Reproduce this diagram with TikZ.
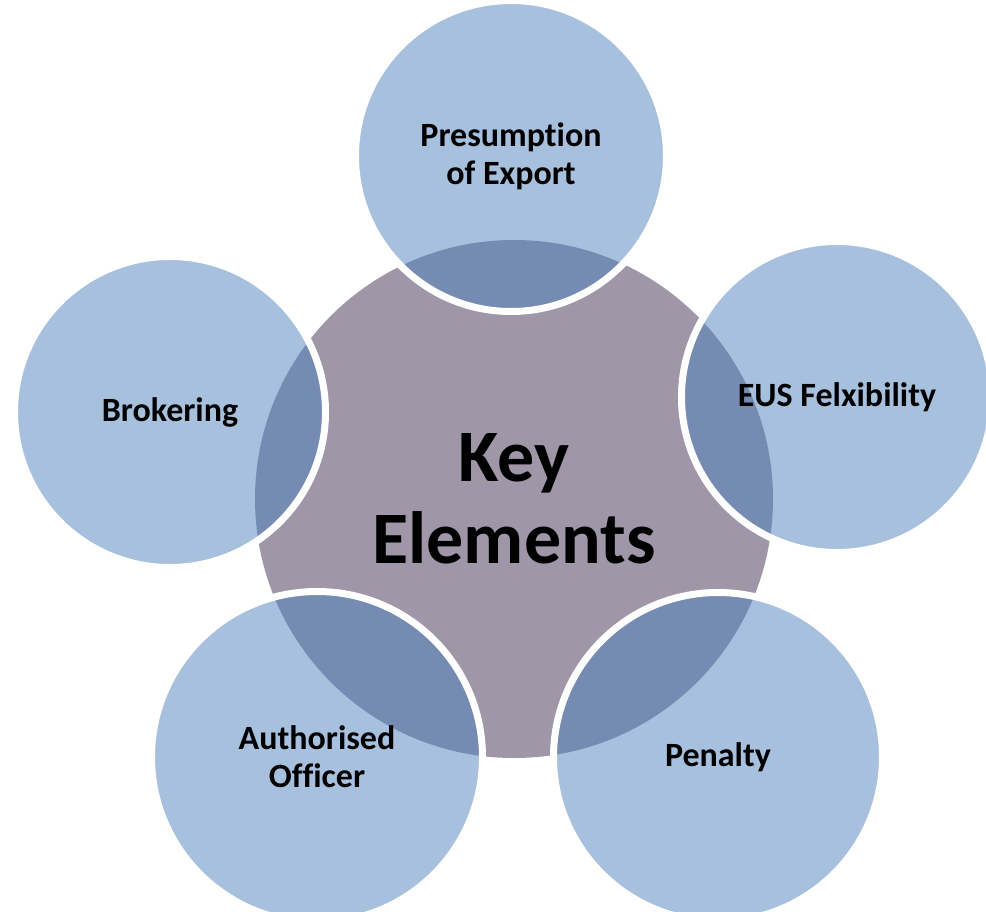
\documentclass[tikz,border=0pt]{standalone}
\usepackage{fontspec}
\setmainfont{Carlito}[Ligatures=NoCommon]
\usepackage{tikz}

\definecolor{hubgrey}{HTML}{9F97A8}
\definecolor{petalblue}{HTML}{4F81BD}

\begin{document}
\begin{tikzpicture}[x=1pt,y=-1pt,
  hub/.style={circle,inner sep=0pt,fill=hubgrey,align=center,
    font=\fontsize{74}{82}\selectfont\bfseries},
  petal/.style={circle,inner sep=0pt,fill=petalblue,fill opacity=0.5,text opacity=1,
    draw=white,line width=7pt,align=center,
    font=\fontsize{34}{38}\selectfont\bfseries}]
\useasboundingbox (0,0) rectangle (986,912);

\node (hub) at (514,499) [hub,minimum size=518pt] {Key\\Elements};

\node (export) at (511,156) [petal,minimum size=311pt] {Presumption\\of Export};
\node (eus) at (837,397) [petal,minimum size=311pt] {EUS Felxibility};
\node (broker) at (170,412) [petal,minimum size=311pt] {Brokering};
\node (officer) at (317,757) [petal,minimum size=331pt] {Authorised\\Officer};
\node (penalty) at (718,757) [petal,minimum size=329pt] {Penalty};
\end{tikzpicture}
\end{document}
